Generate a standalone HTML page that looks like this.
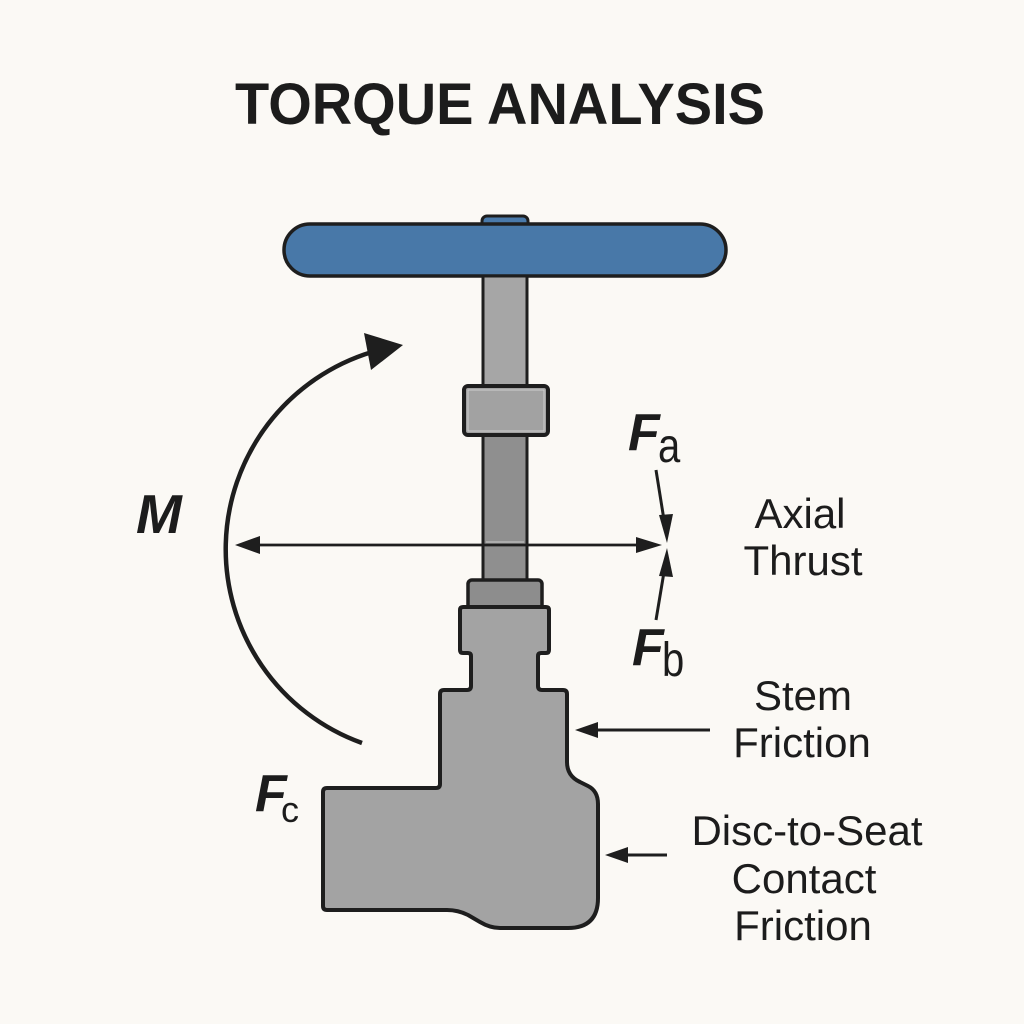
<!DOCTYPE html>
<html><head><meta charset="utf-8"><style>
html,body{margin:0;padding:0;background:#fbf9f5;}
svg{display:block;}
</style></head><body>
<svg width="1024" height="1024" viewBox="0 0 1024 1024" xmlns="http://www.w3.org/2000/svg">
<rect width="1024" height="1024" fill="#fbf9f5"/>
<text x="235" y="124" font-family="Liberation Sans, sans-serif" font-weight="bold" font-size="58" fill="#1c1c1c" textLength="530" lengthAdjust="spacingAndGlyphs">TORQUE ANALYSIS</text>

<!-- handwheel -->
<rect x="482" y="216" width="46" height="14" rx="5" fill="#4a7aab" stroke="#1e1e1e" stroke-width="3"/>
<rect x="284" y="224" width="442" height="52" rx="26" fill="#4878a8" stroke="#1e1e1e" stroke-width="3.5"/>

<!-- upper stem -->
<rect x="483" y="276" width="44" height="112" fill="#a6a6a6" stroke="#1e1e1e" stroke-width="3"/>
<!-- lower stem -->
<rect x="483" y="433" width="44" height="150" fill="#8f8f8f" stroke="#1e1e1e" stroke-width="3"/>
<line x1="486" y1="542" x2="524" y2="542" stroke="#c8c8c8" stroke-width="1"/>
<!-- collar -->
<rect x="464" y="386" width="84" height="49" rx="4" fill="#a2a2a2" stroke="#1e1e1e" stroke-width="4"/>
<rect x="468" y="390" width="76" height="41" fill="none" stroke="#cfcfcf" stroke-width="1"/>
<!-- block -->
<rect x="468" y="580" width="74" height="29" rx="4" fill="#8d8d8d" stroke="#1e1e1e" stroke-width="3.5"/>

<!-- body -->
<path d="M463,607 H546 Q549,607 549,610 V650 Q549,653 546,653 H541 Q538,653 538,656 V686 Q538,690 542,690 H563 Q567,690 567,694 V762 Q567,776 580,782 L588,786 Q598,791 598,804 V898 Q598,928 568,928 H500 Q490,928 480,922 L468,915 Q458,910 447,910 H327 Q323,910 323,906 V792 Q323,788 327,788 H436 Q440,788 440,784 V694 Q440,690 444,690 H467 Q471,690 471,686 V656 Q471,653 468,653 H463 Q460,653 460,650 V610 Q460,607 463,607 Z" fill="#a3a3a3" stroke="#1e1e1e" stroke-width="4" stroke-linejoin="round"/>

<!-- moment arc -->
<path d="M362,743 A206,206 0 0 1 372,352" fill="none" stroke="#1e1e1e" stroke-width="4.5"/>
<polygon points="403,345 364,333 371,370" fill="#1e1e1e"/>

<!-- horizontal double arrow -->
<line x1="255" y1="545" x2="640" y2="545" stroke="#1e1e1e" stroke-width="2.8"/>
<polygon points="235,545 260,536 260,554" fill="#1e1e1e"/>
<polygon points="662,545 636,537 636,553" fill="#1e1e1e"/>

<!-- Fa / Fb arrows -->
<line x1="656" y1="470" x2="664" y2="520" stroke="#1e1e1e" stroke-width="3"/>
<polygon points="667,543 659,515 673,514" fill="#1e1e1e"/>
<line x1="656" y1="620" x2="664" y2="572" stroke="#1e1e1e" stroke-width="3"/>
<polygon points="667,548 659,576 673,577" fill="#1e1e1e"/>

<!-- friction arrows -->
<line x1="595" y1="730" x2="710" y2="730" stroke="#1e1e1e" stroke-width="3"/>
<polygon points="575,730 598,722 598,738" fill="#1e1e1e"/>
<line x1="624" y1="855" x2="667" y2="855" stroke="#1e1e1e" stroke-width="3"/>
<polygon points="605,855 628,847 628,863" fill="#1e1e1e"/>

<!-- symbols -->
<g font-family="Liberation Sans, sans-serif" fill="#1c1c1c">
<text x="136" y="533" font-size="55" font-weight="bold" font-style="italic">M</text>
<text x="628" y="450" font-size="52" font-weight="bold" font-style="italic">F</text>
<text x="0" y="0" font-size="40" transform="translate(658,462) scale(1,1.2)">a</text>
<text x="632" y="665" font-size="52" font-weight="bold" font-style="italic">F</text>
<text x="0" y="0" font-size="40" transform="translate(662,676) scale(1,1.2)">b</text>
<text x="255" y="811" font-size="52" font-weight="bold" font-style="italic">F</text>
<text x="281" y="822" font-size="36">c</text>

<g font-size="42" text-anchor="middle">
<text x="800" y="528">Axial</text>
<text x="803" y="575">Thrust</text>
<text x="803" y="710">Stem</text>
<text x="802" y="757">Friction</text>
<text x="807" y="845">Disc-to-Seat</text>
<text x="804" y="893">Contact</text>
<text x="803" y="940">Friction</text>
</g>
</g>
</svg>
</body></html>
